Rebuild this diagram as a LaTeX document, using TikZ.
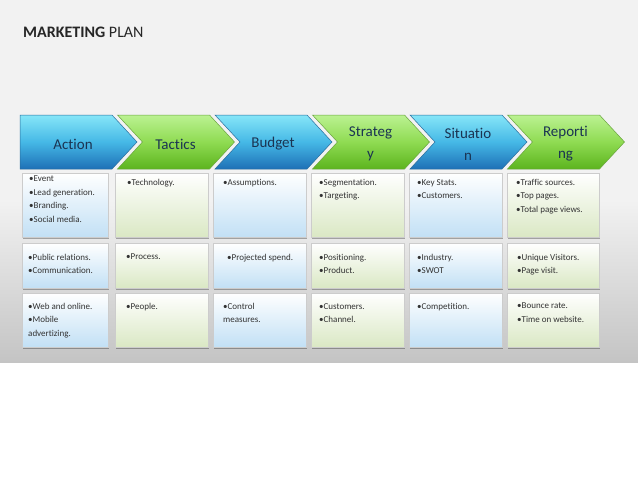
\documentclass[tikz,border=0pt]{standalone}
\usepackage{fontspec}
\setmainfont{Carlito}[Ligatures={NoCommon}]
\usepackage{tikz}
\usetikzlibrary{positioning,calc,shadows}

\definecolor{bggray}{HTML}{F2F2F2}
\definecolor{bgdark}{HTML}{C4C4C4}
\definecolor{blueTop}{HTML}{86E6F8}
\definecolor{blueMid}{HTML}{45B8E6}
\definecolor{blueBot}{HTML}{1E70B6}
\definecolor{blueLine}{HTML}{2A6E9E}
\definecolor{greenTop}{HTML}{BBF292}
\definecolor{greenMid}{HTML}{8FDB52}
\definecolor{greenBot}{HTML}{5CB41E}
\definecolor{greenLine}{HTML}{6AA440}
\definecolor{cellBlueBot}{HTML}{C2E0F5}
\definecolor{cellGreenBot}{HTML}{DAE8C4}
\definecolor{labelNavy}{HTML}{1B3452}
\definecolor{cellInk}{HTML}{333333}

\begin{document}
\begin{tikzpicture}[
        x=1pt, y=-1pt,
        chevblue/.style={top color=blueTop, bottom color=blueBot, middle color=blueMid, draw=blueLine, line width=0.5pt},
        chevgreen/.style={top color=greenTop, bottom color=greenBot, middle color=greenMid, draw=greenLine, line width=0.5pt},
        chevtext/.style={align=center, font=\fontsize{15}{22}\selectfont, text=labelNavy},
        cell/.style={rectangle, draw=gray!40, line width=0.4pt, inner sep=0pt, outer sep=0pt, top color=white,
            drop shadow={shadow xshift=0.8pt, shadow yshift=-1.5pt, fill=black, opacity=0.3}},
        cellb/.style={cell, bottom color=cellBlueBot},
        cellg/.style={cell, bottom color=cellGreenBot},
        celltext/.style={anchor=north west, align=left, inner sep=0pt, font=\fontsize{9}{13.5}\selectfont, text=cellInk}
    ]
        \useasboundingbox (0,0) rectangle (638,479);

        % Background
        \fill[white] (0,0) rectangle (638,479);
        \fill[bggray] (0,0) rectangle (638,362);
        \shade[top color=bggray, bottom color=bgdark] (0,200) rectangle (638,362);

        % Title
        \node[anchor=base west, inner sep=0pt, font=\fontsize{16}{19}\selectfont, text=black!85] (title) at (23,37) {\textbf{MARKETING} PLAN};

        % Chevrons
        \foreach \i/\nm/\txt/\st in {0/action/Action/chevblue, 1/tactics/Tactics/chevgreen, 2/budget/Budget/chevblue,
                3/strategy/{Strateg\\y}/chevgreen, 4/situation/{Situatio\\n}/chevblue, 5/reporting/{Reporti\\ng}/chevgreen} {
            \pgfmathsetmacro{\L}{20+97.5*\i}
            \pgfmathsetmacro{\n}{\i==0 ? 0 : 25}
            \pgfmathsetmacro{\cx}{\L+58-5*(\i==0)}
            \draw[\st] (\L,115) -- (\L+92,115) -- (\L+117,142) -- (\L+92,169) -- (\L,169) -- (\L+\n,142) -- cycle;
            \node[chevtext] (\nm) at (\cx,144) {\txt};
        }

        % Cells
        \foreach \c/\x/\w/\st in {1/22/86/cellb, 2/115/93/cellg, 3/213/93/cellb, 4/311/93/cellg, 5/409/93/cellb, 6/507/92/cellg} {
            \foreach \r/\y/\h in {1/173/64, 2/243/45, 3/293/54} {
                \node[\st, minimum width=\w pt, minimum height=\h pt, anchor=north west] (c\r\c) at (\x,\y) {};
            }
        }

        % Row 1
        \node[celltext] at ([xshift=7pt,yshift=-3pt]c11.north west) {•Event\\•Lead generation.\\•Branding.\\•Social media.};
        \node[celltext] at ([xshift=12pt,yshift=-6pt]c12.north west) {•Technology.};
        \node[celltext] at ([xshift=10pt,yshift=-6pt]c13.north west) {•Assumptions.};
        \node[celltext] at ([xshift=8pt,yshift=-6pt]c14.north west) {•Segmentation.\\•Targeting.};
        \node[celltext] at ([xshift=8pt,yshift=-6pt]c15.north west) {•Key Stats.\\•Customers.};
        \node[celltext] at ([xshift=9pt,yshift=-6pt]c16.north west) {•Traffic sources.\\•Top pages.\\•Total page views.};

        % Row 2
        \node[celltext] at ([xshift=6pt,yshift=-11pt]c21.north west) {•Public relations.\\•Communication.};
        \node[celltext] at ([xshift=11pt,yshift=-11pt]c22.north west) {•Process.};
        \node[celltext] at ([xshift=14pt,yshift=-11pt]c23.north west) {•Projected spend.};
        \node[celltext] at ([xshift=8pt,yshift=-11pt]c24.north west) {•Positioning.\\•Product.};
        \node[celltext] at ([xshift=8pt,yshift=-11pt]c25.north west) {•Industry.\\•SWOT};
        \node[celltext] at ([xshift=10pt,yshift=-11pt]c26.north west) {•Unique Visitors.\\•Page visit.};

        % Row 3
        \node[celltext] at ([xshift=6pt,yshift=-10pt]c31.north west) {•Web and online.\\•Mobile\\advertizing.};
        \node[celltext] at ([xshift=11pt,yshift=-10pt]c32.north west) {•People.};
        \node[celltext] at ([xshift=10pt,yshift=-10pt]c33.north west) {•Control\\measures.};
        \node[celltext] at ([xshift=8pt,yshift=-10pt]c34.north west) {•Customers.\\•Channel.};
        \node[celltext] at ([xshift=8pt,yshift=-10pt]c35.north west) {•Competition.};
        \node[celltext] at ([xshift=10pt,yshift=-10pt]c36.north west) {•Bounce rate.\\•Time on website.};

    \end{tikzpicture}
\end{document}
